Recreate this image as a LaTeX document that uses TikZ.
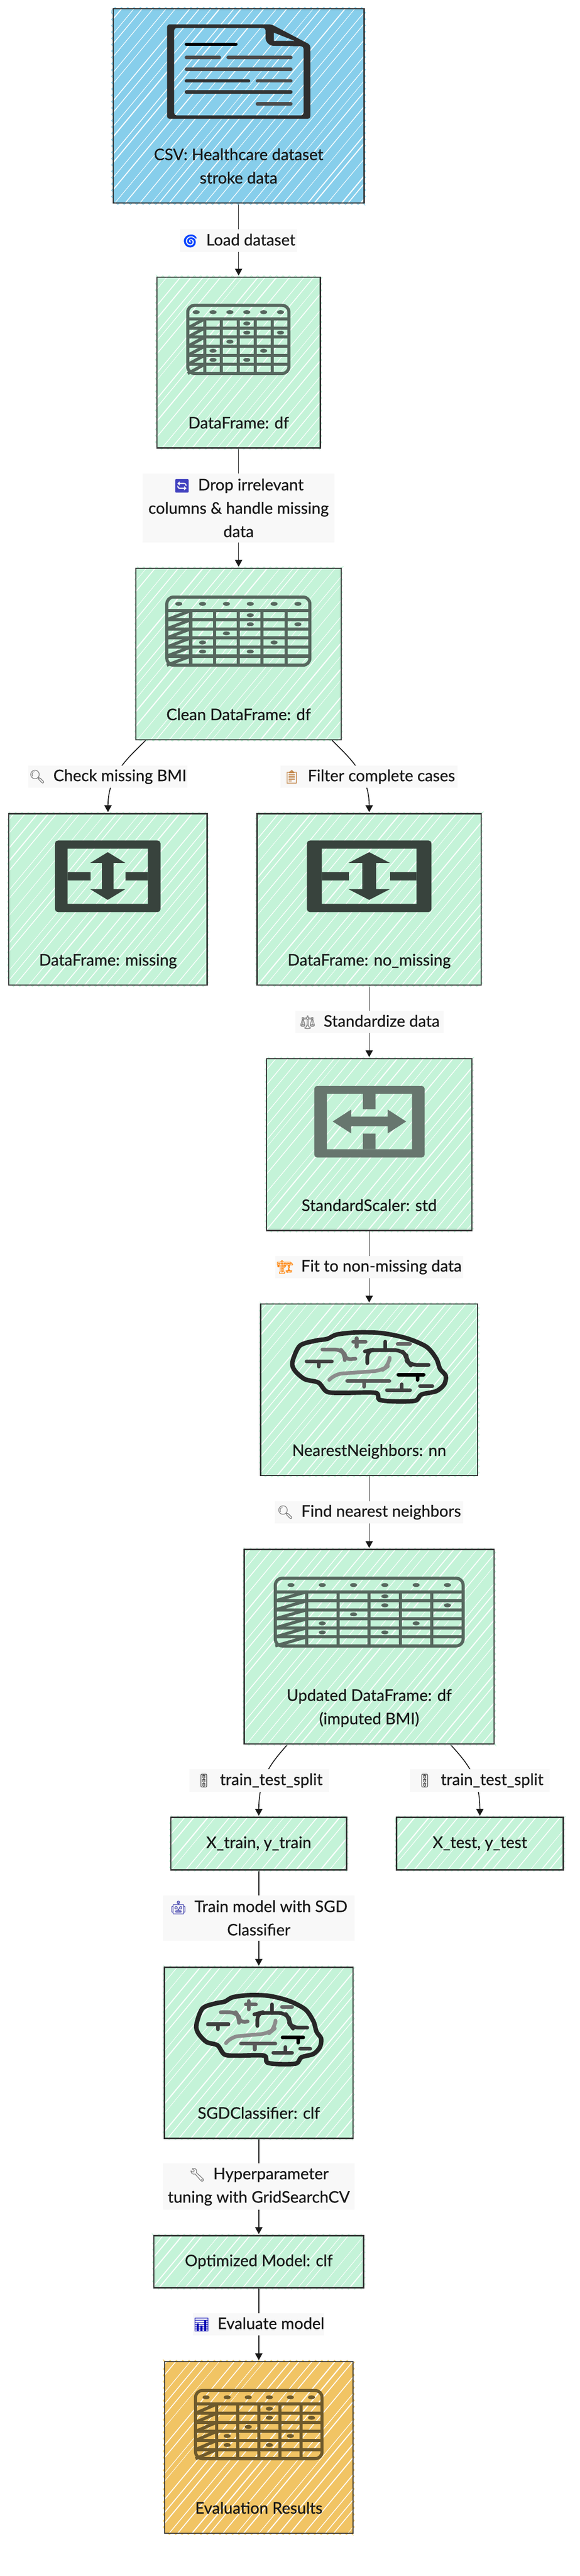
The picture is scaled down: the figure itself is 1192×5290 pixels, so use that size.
\documentclass[tikz,border=0pt]{standalone}
\usepackage{fontspec}
\setmainfont[RawFeature={embolden=0.6}]{Lato}
\newfontfamily\emojifont[RawFeature={embolden=0.8}]{Noto Emoji}
\usetikzlibrary{calc,arrows.meta,decorations.pathmorphing}
\pgfdeclarelayer{dibujo}
\pgfsetlayers{dibujo, main}
\definecolor{csvblue}{HTML}{87CEEB}
\definecolor{framegreen}{HTML}{C4F3D8}
\definecolor{resultorange}{HTML}{F1C464}
\definecolor{labelgray}{HTML}{F8F8F8}
\definecolor{edgegray}{HTML}{333333}
\definecolor{gridgreen}{HTML}{56675E}
\definecolor{gridorange}{HTML}{6E5A2C}
\newcommand{\hatchlines}{
	\foreach \k in {-46,...,46}{
		\pgfmathsetmacro{\hatchpos}{\k*23+rnd*12}
		\pgfmathsetmacro{\hatchwd}{.4+rnd*.8}
		\draw[white,line width=\hatchwd pt] ($(path picture bounding box.center)+(\hatchpos-500,600)$) -- ($(path picture bounding box.center)+(\hatchpos+500,-600)$);
	}
}
\tikzset{
	sized/.style 2 args={minimum width=#1*.5pt,minimum height=#2*.5pt},
	fringe/.style={preaction={draw=#1,line width=.8pt,decorate,decoration={zigzag,segment length=6.5pt,amplitude=1.4pt}}},
	sketchbox/.style={rectangle,draw=edgegray,line width=1.25pt,fill=#1,fringe=#1,inner sep=0pt,font=\boxfont,text=black!90,path picture={\hatchlines}},
	boxtext/.style={anchor=south,inner sep=0pt,text depth=0pt,yshift=20.5pt,align=center,font=\boxfont,text=black!90},
	steplabel/.style={rectangle,fill=labelgray,inner sep=0pt,align=center,font=\boxfont,text=black!90},
	conn/.style={draw=black!90,line width=.9pt,-{Triangle[width=7.5pt,length=7pt]},shorten >=1pt},
	tracegray/.style={line width=3.8pt,line cap=round,line join=round,draw=#1}
}
\newcommand{\boxfont}{\fontsize{16.4}{24}\selectfont}
\newcommand{\emo}[2]{{\emojifont\fontsize{13.5}{24}\selectfont\color{#1}#2}\hspace{8pt}}
\newcommand{\tablegrid}[5]{
	\pgfmathsetmacro{\gridw}{(#3-6)/12}
	\pgfmathsetmacro{\gridh}{(#4-6)/15}
	\begin{scope}[shift={(#1+3,#2+3)},x=\gridw pt,y=-\gridh pt,line width=3.2pt,draw=#5]
		\draw[rounded corners=7pt] (0,0) rectangle (6,7.5);
		\foreach \gridy in {1.5,...,6.5}{
			\draw (0,\gridy) -- (6,\gridy);
			\draw (0,\gridy+1) -- (1,\gridy);
		}
		\foreach \gridx in {1,...,5}
			\draw (\gridx,1.5) -- (\gridx,7.5);
		\foreach \dotx/\doty in {0/.75,1/.75,2/.75,3/.75,4/.75,5/.75,3/2,3/3,5/3,2/4,1/5,4/5,1/6,3/6}
			\fill[#5] (\dotx+.5,\doty) ellipse [x radius=3.6pt,y radius=2pt];
	\end{scope}
}
\newcommand{\splitv}[5]{
	\pgfmathsetmacro{\iconw}{#3/434}
	\pgfmathsetmacro{\iconh}{#4/294}
	\begin{scope}[shift={(#1,#2)},x=\iconw pt,y=-\iconh pt]
		\fill[#5,even odd rule] [rounded corners=3pt] (0,0) rectangle (217,147) [sharp corners] (26,17) rectangle (191,130);
		\fill[#5] (26,65) rectangle (73,82) (145,65) rectangle (191,82);
		\fill[#5] (108.5,24) -- (144.5,46) -- (120.5,46) -- (120.5,100) -- (144.5,100) -- (108.5,122) -- (72.5,100) -- (96.5,100) -- (96.5,46) -- (72.5,46) -- cycle;
	\end{scope}
}
\newcommand{\splith}[5]{
	\pgfmathsetmacro{\iconw}{#3/454}
	\pgfmathsetmacro{\iconh}{#4/294}
	\begin{scope}[shift={(#1,#2)},x=\iconw pt,y=-\iconh pt]
		\fill[#5,even odd rule] [rounded corners=3pt] (0,0) rectangle (227,147) [sharp corners] (26,16) rectangle (201,130);
		\fill[#5] (100,16) rectangle (126,48) (100,98) rectangle (126,130);
		\fill[#5] (38,73) -- (76,48.5) -- (76,63) -- (151,63) -- (151,48.5) -- (189,73) -- (151,97.5) -- (151,83) -- (76,83) -- (76,97.5) -- cycle;
	\end{scope}
}
\newcommand{\brain}[4]{
	\pgfmathsetmacro{\iconw}{#3/1274}
	\pgfmathsetmacro{\iconh}{#4/428}
	\begin{scope}[shift={(#1,#2)},x=\iconw pt,y=-\iconh pt]
		\draw[line width=4.6pt,draw=black!85,line join=round] plot[smooth cycle,tension=.5] coordinates {(10,93) (40,45) (105,30) (150,25) (190,12) (270,6) (370,8) (470,23) (550,48) (590,83) (605,113) (628,133) (622,158) (590,178) (530,188) (505,206) (420,208) (360,203) (345,183) (220,183) (150,180) (115,153) (60,143) (20,118)};
		\draw[tracegray=black!60] (255,33) -- (305,33);
		\draw[tracegray=black!60] (269,23) -- (269,48);
		\draw[tracegray=black!55,rounded corners=6pt] (131,56) -- (205,56) -- (221,70) -- (221,86) -- (264,83);
		\draw[tracegray=black!75] (67,91) -- (169,91);
		\draw[tracegray=black!75] (116,91) -- (116,106);
		\draw[tracegray=black!80,rounded corners=6pt] (312,96) -- (312,60) -- (325,58) -- (449,58) -- (470,75) -- (472,90) -- (485,101) -- (559,101);
		\draw[tracegray=black!80] (384,33) -- (384,58);
		\draw[tracegray=black!60] (434,40) -- (484,40);
		\draw[tracegray=black!45,rounded corners=8pt] (161,143) -- (179,128) -- (369,118) -- (399,103) -- (401,88);
		\draw[tracegray=black!65] (231,148) -- (401,148);
		\draw[tracegray=black!65] (299,148) -- (299,165);
		\draw[tracegray=black] (437,130) -- (539,130);
		\draw[tracegray=black] (514,130) -- (514,145);
		\draw[tracegray=black!75] (391,175) -- (484,175);
		\draw[tracegray=black!75] (451,158) -- (451,175);
		\draw[tracegray=black!75] (524,163) -- (574,163);
	\end{scope}
}
\begin{document}
\begin{tikzpicture}[x=.5pt,y=-.5pt]
	\pgfmathsetseed{11}
	\useasboundingbox (0,0) rectangle (1192,5290);
	\node[sketchbox=csvblue,sized={516}{399},label={[boxtext]south:{CSV: Healthcare dataset\\stroke data}}] (csv) at (490.5,217.5) {};
	\node[sketchbox=framegreen,sized={336}{351},label={[boxtext]south:{DataFrame: df}}] (df) at (490.5,744.5) {};
	\node[sketchbox=framegreen,sized={422}{352},label={[boxtext]south:{Clean DataFrame: df}}] (clean) at (490.5,1343) {};
	\node[sketchbox=framegreen,sized={408}{352},label={[boxtext]south:{DataFrame: missing}}] (missing) at (222,1847) {};
	\node[sketchbox=framegreen,sized={461}{352},label={[boxtext]south:{DataFrame: no\_missing}}] (nomissing) at (759,1847) {};
	\node[sketchbox=framegreen,sized={422}{353},label={[boxtext]south:{StandardScaler: std}}] (std) at (759,2350.5) {};
	\node[sketchbox=framegreen,sized={446}{352},label={[boxtext]south:{NearestNeighbors: nn}}] (nn) at (759,2854) {};
	\node[sketchbox=framegreen,sized={514}{399},label={[boxtext]south:{Updated DataFrame: df\\(imputed BMI)}}] (updated) at (759,3381.5) {};
	\node[sketchbox=framegreen,sized={361}{108}] (xtrain) at (532,3786) {X\_train, y\_train};
	\node[sketchbox=framegreen,sized={343}{108}] (xtest) at (986.5,3786) {X\_test, y\_test};
	\node[sketchbox=framegreen,sized={388}{351},label={[boxtext]south:{SGDClassifier: clf}}] (sgd) at (532,4215.5) {};
	\node[sketchbox=framegreen,sized={431}{107}] (optmodel) at (532,4644.5) {Optimized Model: clf};
	\node[sketchbox=resultorange,sized={387}{352},label={[boxtext]south:{Evaluation Results}}] (evalres) at (532,5026) {};

	\node[steplabel,sized={240}{46}] (loadlab) at (490.5,494) {\emo{blue!75!cyan}{🌀}Load dataset};
	\node[steplabel,sized={394}{142}] (droplab) at (490.5,1043) {\emo{blue!50!gray}{🔄}Drop irrelevant\\columns \& handle missing\\data};
	\node[steplabel,sized={327}{46}] (checklab) at (221.5,1595) {\emo{gray}{🔍}Check missing BMI};
	\node[steplabel,sized={364}{46}] (filterlab) at (759,1595) {\emo{brown}{📋}Filter complete cases};
	\node[steplabel,sized={305}{46}] (stdlab) at (759.5,2098.5) {\emo{gray}{⚖}Standardize data};
	\node[steplabel,sized={386}{46}] (fitlab) at (759,2602) {\emo{orange}{🏗}Fit to non-missing data};
	\node[steplabel,sized={387}{46}] (findlab) at (758.5,3105.5) {\emo{gray}{🔍}Find nearest neighbors};
	\node[steplabel,sized={287}{46}] (splitlab) at (532.5,3656.5) {\emo{black!70}{🚦}train\_test\_split};
	\node[steplabel,sized={287}{46}] (testlab) at (986.5,3656.5) {\emo{black!70}{🚦}train\_test\_split};
	\node[steplabel,sized={394}{93}] (trainlab) at (532,3938.5) {\emo{blue!40!gray}{🤖}Train model with SGD\\Classifier};
	\node[steplabel,sized={394}{95}] (tunelab) at (532,4490.5) {\emo{gray}{🔧}Hyperparameter\\tuning with GridSearchCV};
	\node[steplabel,sized={268}{46}] (evallab) at (532,4773) {\emo{blue!70!black}{📊}Evaluate model};

	\begin{pgfonlayer}{dibujo}
		\draw[conn] (csv) -- (df);
		\draw[conn] (df) -- (clean);
		\draw[conn] ($(clean.south west)!.05!(clean.south east)$) .. controls (265,1555) and (222,1590) .. (missing.north);
		\draw[conn] ($(clean.south west)!.953!(clean.south east)$) .. controls (717,1555) and (759,1590) .. (nomissing.north);
		\draw[conn] (nomissing) -- (std);
		\draw[conn] (std) -- (nn);
		\draw[conn] (nn) -- (updated);
		\draw[conn] ($(updated.south west)!.175!(updated.south east)$) .. controls (558,3620) and (532,3650) .. (xtrain.north);
		\draw[conn] ($(updated.south west)!.823!(updated.south east)$) .. controls (960,3620) and (986.5,3650) .. (xtest.north);
		\draw[conn] (xtrain) -- (sgd);
		\draw[conn] (sgd) -- (optmodel);
		\draw[conn] (optmodel) -- (evalres);
	\end{pgfonlayer}

	\fill[black!82,even odd rule] [rounded corners=2.5pt] (343.5,50) -- (558,50) -- (638,92) -- (638,244) -- (343.5,244) -- cycle (358,57.5) -- (546,57.5) -- (546,84) -- (556,94) -- (624,95) -- (624,237) -- (358,237) -- cycle [sharp corners] (563,67) -- (606,84) -- (563,84) -- cycle;
	\foreach \linea/\lineb/\liney/\linecol in {383/485/91/black,383/451/118/black!70,469/598/118/black!70,383/598/142/black!70,383/511/166/black!80,529/598/166/black!70,383/598/189/black!80,529/598/213.5/black!70}
		\draw[line width=3.5pt,line cap=round,draw=\linecol] (\linea,\liney) -- (\lineb,\liney);

	\tablegrid{383}{624}{214}{146}{gridgreen}
	\tablegrid{340}{1223}{300}{146}{gridgreen}
	\tablegrid{563}{3238}{392}{145}{gridgreen}
	\tablegrid{399}{4906}{266}{146}{gridorange}
	\splitv{113}{1726}{217}{147}{black!35!gridgreen}
	\splitv{631}{1726}{256}{147}{black!35!gridgreen}
	\splith{646}{2230}{227}{147}{gridgreen!90!white}
	\brain{596}{2732}{325}{150}
	\brain{399.5}{4093}{264.5}{150}
\end{tikzpicture}
\end{document}
